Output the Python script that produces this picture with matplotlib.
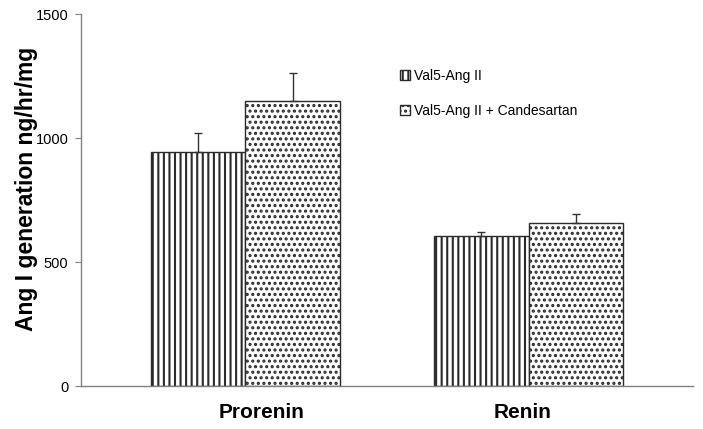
import matplotlib
matplotlib.use('Agg')
import matplotlib.pyplot as plt
import numpy as np

# Data
groups = ['Prorenin', 'Renin']
series = ['Val5-Ang II', 'Val5-Ang II + Candesartan']
val5 = [945, 606]
val5_err = [74, 15]
cand = [1150, 656]
cand_err = [111, 39]

plt.rcParams['font.family'] = ['Liberation Sans', 'DejaVu Sans']
plt.rcParams['hatch.linewidth'] = 1.5

fig = plt.figure(figsize=(7.03, 4.29), dpi=100)
ax = fig.add_axes([0.1152, 0.1002, 0.8706, 0.8671])

x = np.arange(len(groups))
width = 0.333

ax.bar(x - width / 2, val5, width, facecolor='white', edgecolor='#2a2a2a',
       hatch='|||', linewidth=1.0, label=series[0], zorder=2)
ax.bar(x + width / 2, cand, width, facecolor='white', edgecolor='#2a2a2a',
       hatch='...', linewidth=1.0, label=series[1], zorder=2)

# upward error bars only
ax.errorbar(x - width / 2, val5, yerr=[np.zeros(len(val5)), val5_err], fmt='none',
            ecolor='#333333', elinewidth=1.0, capsize=3, capthick=1.0, zorder=3)
ax.errorbar(x + width / 2, cand, yerr=[np.zeros(len(cand)), cand_err], fmt='none',
            ecolor='#333333', elinewidth=1.0, capsize=3, capthick=1.0, zorder=3)

ax.set_xlim(-0.581, 1.581)
ax.set_ylim(0, 1500)
ax.set_yticks([0, 500, 1000, 1500])
ax.tick_params(axis='y', labelsize=10.5, length=4, color='#808080', pad=5)
ax.set_xticks([0.058, 0.98])
ax.set_xticklabels(groups, fontsize=15, fontweight='bold')
ax.tick_params(axis='x', length=0, pad=12)

for s in ['top', 'right']:
    ax.spines[s].set_visible(False)
for s in ['left', 'bottom']:
    ax.spines[s].set_color('#808080')
    ax.spines[s].set_linewidth(1.0)

ax.set_ylabel('Ang I generation ng/hr/mg', fontsize=16.5, fontweight='bold')
ax.yaxis.set_label_coords(-0.07, 0.53)

ax.legend(loc='upper left', bbox_to_anchor=(0.5, 0.887), frameon=False, fontsize=10,
          handlelength=0.75, handleheight=0.75, handletextpad=0.3, labelspacing=1.55)

fig.savefig('out.png', dpi=100)
